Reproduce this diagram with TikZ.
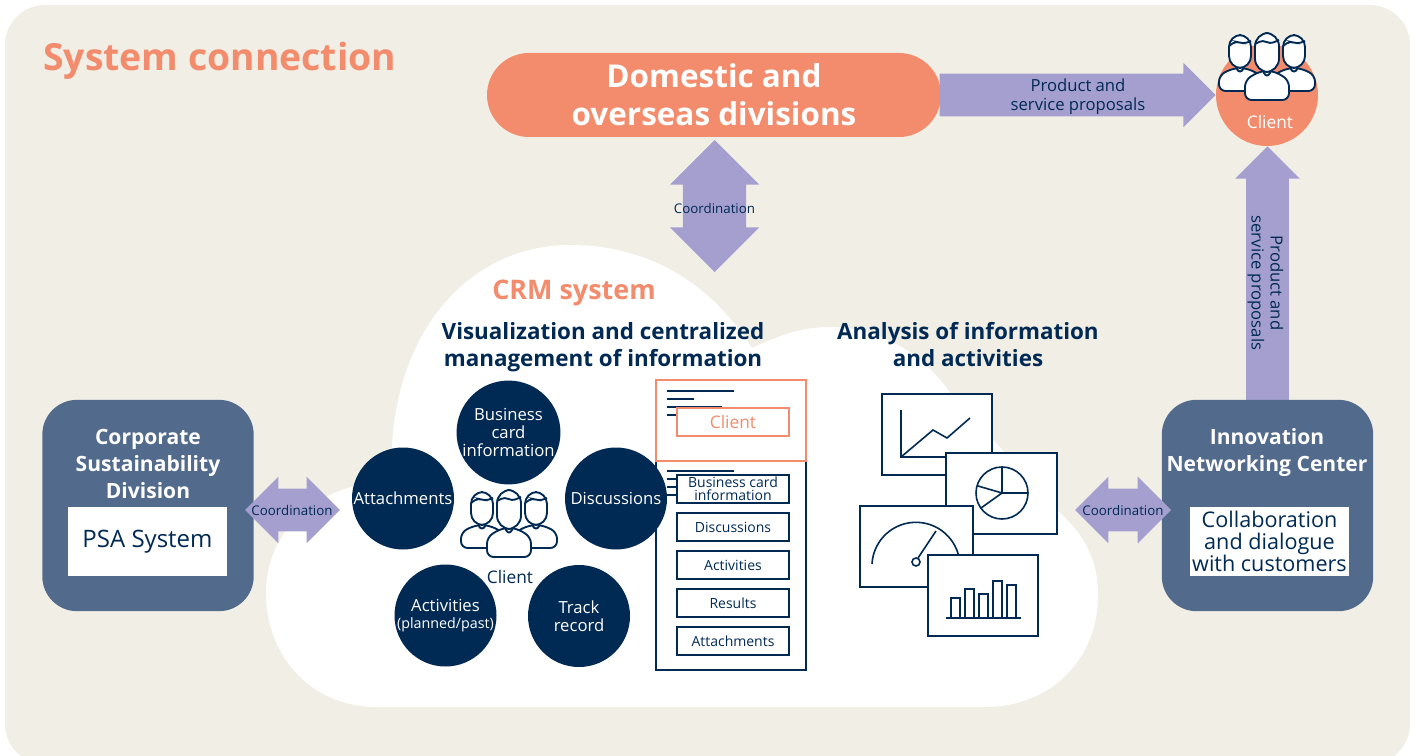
\documentclass[tikz,border=0pt]{standalone}
\usepackage{fontspec}
\setmainfont{Open Sans}
\usetikzlibrary{shapes.arrows}
\definecolor{sandbg}{HTML}{F1EEE6}
\definecolor{navyc}{HTML}{002A54}
\definecolor{orangec}{HTML}{F28C6C}
\definecolor{slatec}{HTML}{526A8B}
\definecolor{lilacc}{HTML}{A59FCF}
\tikzset{
  bubble/.style={circle,fill=navyc,text=white,minimum size=76.5pt,inner sep=0pt,align=center,font=\fontsize{12.5}{13.5}\selectfont},
  listbox/.style={draw=navyc,line width=1.1pt,fill=white,minimum width=84pt,minimum height=21pt,inner sep=0pt,align=center,text=navyc,font=\fontsize{10.5}{9.5}\selectfont},
  sidebox/.style={fill=slatec,rounded corners=26pt,minimum width=158.5pt,minimum height=158.5pt,inner sep=0pt},
  sidetext/.style={text=white,align=center,inner sep=0pt,font=\fontsize{15.8}{20.25}\selectfont\bfseries},
  whitebox/.style={fill=white,minimum width=119pt,minimum height=52pt,inner sep=0pt,align=center,text=navyc},
  chartbox/.style={draw=navyc,line width=1.2pt,fill=white},
  chartline/.style={draw=navyc,line width=1.2pt},
  headtext/.style={text=navyc,align=center,inner sep=0pt,font=\fontsize{16.8}{20.25}\selectfont\bfseries},
  twoway/.style={shape=double arrow,fill=lilacc,inner sep=15.75pt,double arrow head extend=9pt},
  oneway/.style={shape=single arrow,fill=lilacc,inner sep=15.75pt,single arrow head extend=8.25pt,single arrow head indent=0pt},
  flowtext/.style={text=navyc,align=center,inner sep=0pt,font=\fontsize{12.5}{14.25}\selectfont},
  coordtext/.style={text=navyc,inner sep=0pt,font=\fontsize{10}{12}\selectfont},
  pics/clienticon/.style={code={
    \tikzset{every path/.style={draw=navyc,line width=1.4pt,fill=white,rounded corners=5pt}}
    % back people
    \foreach \sx in {-27,27}{
      \path (\sx-21,58) -- (\sx-21,42) -- (\sx-6,35) -- (\sx+6,35) -- (\sx+21,42) -- (\sx+21,58) -- cycle;
      \path (\sx-5,32) -- (\sx,42) -- (\sx+5,32) -- cycle;
      \path[rounded corners=9pt] (\sx-11,2) rectangle (\sx+11,35);
      \path[fill=none,rounded corners=3pt] (\sx-11,13) -- (\sx-4,8) -- (\sx+3,11) -- (\sx+11,8);
    }
    % front one
    \path (-22,67) -- (-22,47) -- (-7,38) -- (7,38) -- (22,47) -- (22,67) -- cycle;
    \path (-6,34) -- (0,46) -- (6,34) -- cycle;
    \path[rounded corners=10pt] (-12,0) rectangle (12,39);
    \path[fill=none,rounded corners=3pt] (-12,11) -- (-4,7) -- (3,11) -- (12,7);
  }}
}
\begin{document}
\begin{tikzpicture}[x=0.75pt,y=0.75pt,yscale=-1,xscale=1]
\useasboundingbox (0,0) rectangle (1415,756);

%Background
\fill[sandbg,rounded corners=30pt] (5,5) rectangle (1410,764);

%Cloud
\fill[white] (377,707) .. controls (310,707) and (266,655) .. (266,593)
  .. controls (266,535) and (310,485) .. (392,480)
  .. controls (385,340) and (465,245) .. (570,245)
  .. controls (640,245) and (705,275) .. (752,348)
  .. controls (785,333) and (805,327) .. (830,327)
  .. controls (880,327) and (925,355) .. (950,393)
  -- (1057,510)
  .. controls (1085,535) and (1098,560) .. (1098,595)
  .. controls (1098,660) and (1050,707) .. (985,707) -- cycle;

% Text Node
\node[anchor=west,inner sep=0pt,text=orangec,font=\fontsize{28}{34}\selectfont\bfseries] (title) at (43,61) {System connection};

%Top row
\node[fill=orangec,rounded corners=31.5pt,minimum width=340.5pt,minimum height=63pt,inner sep=0pt,text=white,align=center,font=\fontsize{23.6}{28.5}\selectfont\bfseries] (divisions) at (714,95) {Domestic and\\overseas divisions};
\node[shape=circle,fill=orangec,minimum size=76.5pt,inner sep=0pt] (clientdot) at (1267,95) {};
\node[oneway,minimum height=207pt,anchor=tip] (topflow) at (1216,95) {};
\node[flowtext] (topflowtext) at (1078,97) {Product and\\service proposals};
\pic[transform shape] at (1267,33) {clienticon};
\node[text=white,inner sep=0pt,font=\fontsize{13}{16}\selectfont] (clientlabel) at (1270,122) {Client};

%Up arrows
\node[twoway,shape border rotate=90,inner sep=23.6pt,minimum height=99pt,double arrow head extend=9.75pt] (midflow) at (714.5,206) {};
\node[coordtext] (midflowtext) at (714.5,209) {Coordination};
\node[oneway,shape border rotate=90,minimum height=198pt,anchor=tip] (sideflow) at (1267.5,146) {};
\node[flowtext,rotate=-90] (sideflowtext) at (1265.5,283) {Product and\\service proposals};

%Side boxes
\node[sidebox] (csd) at (148,505.5) {};
\node[sidetext] (csdlabel) at (148,464) {Corporate\\Sustainability\\Division};
\node[whitebox,font=\fontsize{18}{20}\selectfont] (psa) at (147.5,541.5) {PSA System};
\node[sidebox] (inc) at (1267.5,505.5) {};
\node[sidetext] (inclabel) at (1267,453) {Innovation\\Networking Center};
\node[whitebox,font=\fontsize{16.2}{16.5}\selectfont] (dialogue) at (1269.5,541.5) {Collaboration\\and dialogue\\with customers};

%Coordination arrows
\node[twoway,minimum height=71pt] (leftflow) at (292.5,510) {};
\node[coordtext] (leftflowtext) at (292,510) {Coordination};
\node[twoway,minimum height=72pt] (rightflow) at (1123,510) {};
\node[coordtext] (rightflowtext) at (1123,510) {Coordination};

% Text Node
\node[text=orangec,inner sep=0pt,font=\fontsize{20.2}{24}\selectfont\bfseries] (crm) at (574,293) {CRM system};
\node[headtext] (visual) at (603,347) {Visualization and centralized\\management of information};
\node[headtext] (analysis) at (968,345) {Analysis of information\\and activities};

%Record panel
\draw[navyc,line width=1pt,fill=white] (656,461) rectangle (806,670);
\draw[orangec,line width=1.1pt,fill=white] (656,380) rectangle (806,461);
\draw[navyc,line width=1pt] (667,391) -- (734,391) (667,399) -- (694,399) (667,407) -- (722,407) (667,415) -- (680,415);
\draw[navyc,line width=1pt] (667,471) -- (734,471) (667,479) -- (680,479) (667,487) -- (680,487) (667,495) -- (680,495);
\node[listbox,draw=orangec,text=orangec,font=\fontsize{13}{16}\selectfont] (recclient) at (733,422) {Client};
\node[listbox] (recbusiness) at (733,489) {Business card\\information};
\node[listbox] (recdiscuss) at (733,527) {Discussions};
\node[listbox] (recactivity) at (733,565) {Activities};
\node[listbox] (recresults) at (733,603) {Results};
\node[listbox] (recattach) at (733,641) {Attachments};

%Bubbles
\node[bubble] (business) at (508.5,432.5) {Business\\card\\information};
\node[bubble] (attach) at (403,498.5) {Attachments};
\node[bubble] (discuss) at (616,498.5) {Discussions};
\node[bubble] (activity) at (445.5,615.5) {Activities\\[-1pt]{\fontsize{10.7}{12}\selectfont (planned/past)}};
\node[bubble] (track) at (579,616) {Track\\record};
\pic[transform shape] at (509,490) {clienticon};
\node[text=navyc,inner sep=0pt,font=\fontsize{13}{16}\selectfont] (bubbleclient) at (510,577) {Client};

%Charts
\draw[chartbox] (882,394) rectangle (992,475);
\draw[chartline] (901,410) -- (901,457) -- (960,457);
\draw[chartline] (901,457) -- (933,430) -- (947,438) -- (970,418);
\draw[chartbox] (946,453) rectangle (1057,534);
\draw[chartline] (1002,493) circle[radius=26];
\draw[chartline] (1002,467) -- (1002,493) -- (1028,493) (978,486) -- (1002,493) -- (981,508);
\draw[chartbox] (860,506) rectangle (973,587);
\draw[chartline] (872,564) arc[start angle=183,end angle=360,radius=44];
\draw[chartline] (918,558) -- (936,531);
\draw[chartline,fill=white] (916,562) circle[radius=4];
\draw[chartbox] (928,555) rectangle (1038,636);
\foreach \bx/\btop in {951/598,965/589,979/594,993/581,1007/585}
  \draw[chartline] (\bx,618) rectangle (\bx+9,\btop);
\draw[chartline] (946,618) -- (1021,618);
\end{tikzpicture}
\end{document}
